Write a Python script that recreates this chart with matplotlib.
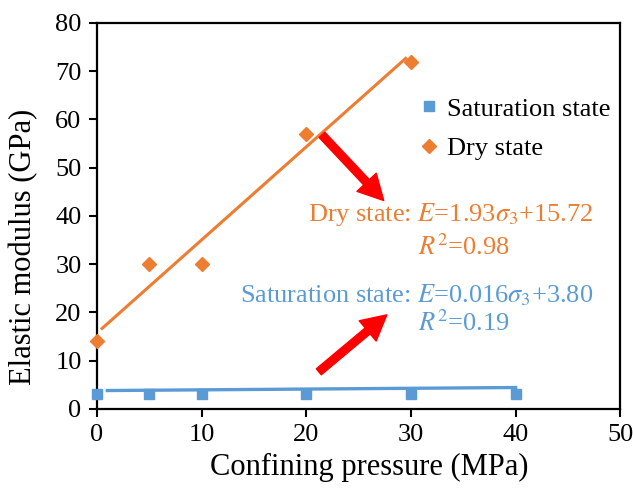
import matplotlib.pyplot as plt
import numpy as np

plt.rcParams['font.family'] = ['Liberation Serif', 'DejaVu Serif']
plt.rcParams['mathtext.fontset'] = 'stix'

# Measured elastic modulus (GPa) vs confining pressure (MPa)
sat_pressure = [0, 5, 10, 20, 30, 40]
sat_modulus = [3, 3, 3, 3, 3, 3]
dry_pressure = [0, 5, 10, 20, 30]
dry_modulus = [14, 30, 30, 57, 72]

# Linear fits E = a*sigma3 + b
sat_fit = (0.016, 3.80)
dry_fit = (1.93, 15.72)
sat_fit_range = [1, 40]
dry_fit_range = [0.5, 29.5]

blue = '#5B9BD5'
orange = '#ED7D31'

fig = plt.figure(figsize=(6.33, 4.88), dpi=100)
ax = fig.add_axes([0.153, 0.162, 0.827, 0.791])

sx = np.array(sat_fit_range)
dx = np.array(dry_fit_range)
ax.plot(sx, sat_fit[0] * sx + sat_fit[1], color=blue, lw=2.4, zorder=2)
ax.plot(dx, dry_fit[0] * dx + dry_fit[1], color=orange, lw=2.2, zorder=2)

ax.plot(sat_pressure, sat_modulus, 's', color=blue, ms=7.5, ls='none',
        label='Saturation state', zorder=3, clip_on=False)
ax.plot(dry_pressure, dry_modulus, 'D', color=orange, ms=6.8, ls='none',
        label='Dry state', zorder=3, clip_on=False)

ax.set_xlim(0, 50)
ax.set_ylim(0, 80)
ax.set_xticks(range(0, 51, 10))
ax.set_yticks(range(0, 81, 10))
ax.tick_params(axis='both', direction='out', length=6, width=1.5,
               labelsize=19, pad=5)
for sp in ax.spines.values():
    sp.set_linewidth(1.6)
    sp.set_color('black')

ax.set_xlabel('Confining pressure (MPa)', fontsize=22)
ax.set_ylabel('Elastic modulus (GPa)', fontsize=22)
ax.xaxis.set_label_coords(0.52, -0.115)
ax.yaxis.set_label_coords(-0.112, 0.42)

ax.legend(loc='upper left', bbox_to_anchor=(0.6, 0.835), frameon=False,
          fontsize=19, handlelength=0.6, handletextpad=0.35,
          labelspacing=0.62, borderaxespad=0)

# Fit equations
ax.text(47.4, 40.2, r'Dry state: $E$=1.93$\sigma_3$+15.72', color=orange,
        fontsize=19, ha='right', va='center')
ax.text(30.7, 33.6, r'$R^2$=0.98', color=orange, fontsize=19,
        ha='left', va='center')
ax.text(47.4, 23.6, r'Saturation state: $E$=0.016$\sigma_3$+3.80', color=blue,
        fontsize=19, ha='right', va='center')
ax.text(30.7, 17.8, r'$R^2$=0.19', color=blue, fontsize=19,
        ha='left', va='center')

arrow = dict(arrowstyle='simple,head_length=0.9,head_width=0.95,tail_width=0.28',
             color='red', mutation_scale=20, shrinkA=0, shrinkB=0)
ax.annotate('', xy=(27.4, 43.2), xytext=(21.5, 56.8), arrowprops=arrow)
ax.annotate('', xy=(27.7, 19.5), xytext=(21.2, 7.7), arrowprops=arrow)

fig.savefig('out.png', dpi=100)
